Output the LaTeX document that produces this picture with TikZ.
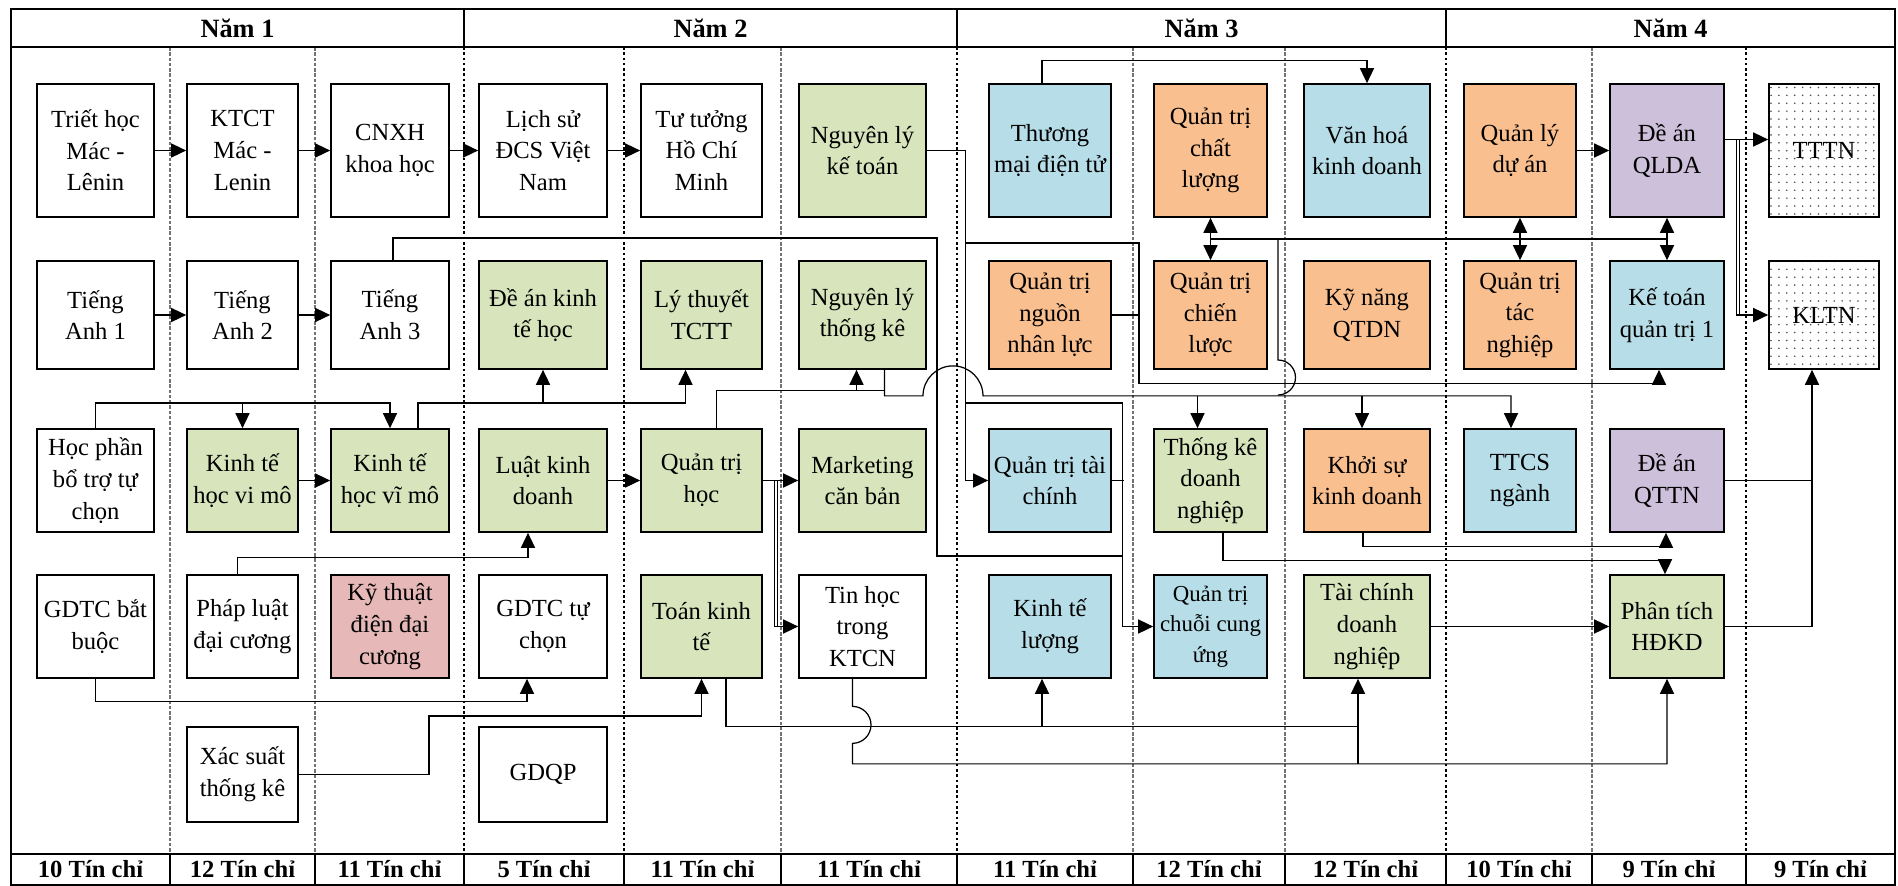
\documentclass[tikz,border=0pt]{standalone}
\usepackage{fontspec}
\setmainfont{Liberation Serif}
\usepackage{tikz}
\usetikzlibrary{arrows.meta, calc, patterns.meta}
\definecolor{kgreen}{RGB}{216,228,188}
\definecolor{kblue}{RGB}{183,222,232}
\definecolor{korange}{RGB}{250,191,143}
\definecolor{kpurple}{RGB}{204,192,218}
\definecolor{kpink}{RGB}{230,184,183}

\begin{document}
\begin{tikzpicture}[
    x=0.02cm, y=-0.02cm,
    course/.style={rectangle, draw=black, line width=1pt, align=center, inner sep=1pt,
                   font=\fontsize{14}{18}\selectfont},
    r1/.style={minimum height=2.66cm}, r2/.style={minimum height=2.16cm},
    r3/.style={minimum height=2.06cm}, r4/.style={minimum height=2.06cm},
    r5/.style={minimum height=1.9cm},
    c1/.style={minimum width=2.34cm}, c2/.style={minimum width=2.22cm},
    c3/.style={minimum width=2.36cm}, c4/.style={minimum width=2.56cm},
    c5/.style={minimum width=2.42cm}, c6/.style={minimum width=2.54cm},
    c7/.style={minimum width=2.44cm}, c8/.style={minimum width=2.26cm},
    c9/.style={minimum width=2.52cm}, c10/.style={minimum width=2.24cm},
    c11/.style={minimum width=2.28cm}, c12/.style={minimum width=2.2cm},
    final/.style={pattern={Dots[distance=4.5pt, radius=0.5pt]}, pattern color=black!70},
    year/.style={font=\fontsize{15}{18}\selectfont\bfseries},
    credit/.style={font=\fontsize{14}{16}\selectfont\bfseries},
    frame/.style={line width=1.2pt},
    thinsep/.style={draw=black!55, line width=0.6pt, dash pattern=on 2pt off 1pt},
    thicksep/.style={line width=1.5pt, dash pattern=on 1.5pt off 1.5pt},
    link/.style={line width=0.7pt},
    arrow/.style={-{Triangle[length=8.5pt, width=8pt]}, link},
    biarrow/.style={{Triangle[length=8.5pt, width=8pt]}-{Triangle[length=8.5pt, width=8pt]}, link}
]
    \useasboundingbox (0,0) rectangle (1898,886);

    % grid
    \foreach \x in {170,315,781,1133,1285,1592}
        \draw[thinsep] (\x,47) -- (\x,854);
    \foreach \x in {464,624,957,1446,1746}
        \draw[thicksep] (\x,47) -- (\x,854);
    \draw[frame] (11,9) rectangle (1895,885);
    \draw[frame] (11,47) -- (1895,47);
    \draw[frame] (11,854) -- (1895,854);
    \foreach \x in {464,957,1446}
        \draw[frame] (\x,9) -- (\x,47);
    \foreach \x in {170,315,464,624,781,957,1133,1285,1446,1592,1746}
        \draw[frame] (\x,854) -- (\x,885);

    \node[year] (nam1) at (237.5,28) {Năm 1};
    \node[year] (nam2) at (710.5,28) {Năm 2};
    \node[year] (nam3) at (1201.5,28) {Năm 3};
    \node[year] (nam4) at (1670.5,28) {Năm 4};
    \foreach \x/\n [count=\i] in {90.5/10,242.5/12,389.5/11,544/5,702.5/11,869/11,
                                  1045/11,1209/12,1365.5/12,1519/10,1669/9,1820.5/9}
        \node[credit] (tc\i) at (\x,869.5) {\n{} Tín chỉ};

    % row 1
    \node[course, c1, r1] (triet) at (95.5,150.5) {Triết học\\Mác -\\Lênin};
    \node[course, c2, r1] (ktct) at (242.5,150.5) {KTCT\\Mác -\\Lenin};
    \node[course, c3, r1] (cnxh) at (390,150.5) {CNXH\\khoa học};
    \node[course, c4, r1] (lsd) at (543,150.5) {Lịch sử\\ĐCS Việt\\Nam};
    \node[course, c5, r1] (tthcm) at (701.5,150.5) {Tư tưởng\\Hồ Chí\\Minh};
    \node[course, c6, r1, fill=kgreen] (nlkt) at (862.5,150.5) {Nguyên lý\\kế toán};
    \node[course, c7, r1, fill=kblue] (tmdt) at (1050,150.5) {Thương\\mại điện tử};
    \node[course, c8, r1, fill=korange] (qtchatl) at (1210.5,150.5) {Quản trị\\chất\\lượng};
    \node[course, c9, r1, fill=kblue] (vhkd) at (1367,150.5) {Văn hoá\\kinh doanh};
    \node[course, c10, r1, fill=korange] (qlda) at (1520,150.5) {Quản lý\\dự án};
    \node[course, c11, r1, fill=kpurple] (daqlda) at (1667,150.5) {Đề án\\QLDA};
    \node[course, c12, r1, final] (tttn) at (1824,150.5) {TTTN};

    % row 2
    \node[course, c1, r2] (ta1) at (95.5,315) {Tiếng\\Anh 1};
    \node[course, c2, r2] (ta2) at (242.5,315) {Tiếng\\Anh 2};
    \node[course, c3, r2] (ta3) at (390,315) {Tiếng\\Anh 3};
    \node[course, c4, r2, fill=kgreen] (dakth) at (543,315) {Đề án kinh\\tế học};
    \node[course, c5, r2, fill=kgreen] (lttc) at (701.5,315) {Lý thuyết\\TCTT};
    \node[course, c6, r2, fill=kgreen] (nltk) at (862.5,315) {Nguyên lý\\thống kê};
    \node[course, c7, r2, fill=korange] (qtnnl) at (1050,315) {Quản trị\\nguồn\\nhân lực};
    \node[course, c8, r2, fill=korange] (qtchienl) at (1210.5,315) {Quản trị\\chiến\\lược};
    \node[course, c9, r2, fill=korange] (knqtdn) at (1367,315) {Kỹ năng\\QTDN};
    \node[course, c10, r2, fill=korange] (qttacn) at (1520,315) {Quản trị\\tác\\nghiệp};
    \node[course, c11, r2, fill=kblue] (ktqt1) at (1667,315) {Kế toán\\quản trị 1};
    \node[course, c12, r2, final] (kltn) at (1824,315) {KLTN};

    % row 3
    \node[course, c1, r3] (hpbt) at (95.5,480.5) {Học phần\\bổ trợ tự\\chọn};
    \node[course, c2, r3, fill=kgreen] (ktvm1) at (242.5,480.5) {Kinh tế\\học vi mô};
    \node[course, c3, r3, fill=kgreen] (ktvm2) at (390,480.5) {Kinh tế\\học vĩ mô};
    \node[course, c4, r3, fill=kgreen] (lkd) at (543,480.5) {Luật kinh\\doanh};
    \node[course, c5, r3, fill=kgreen] (qth) at (701.5,480.5) {Quản trị\\học};
    \node[course, c6, r3, fill=kgreen] (mkt) at (862.5,480.5) {Marketing\\căn bản};
    \node[course, c7, r3, fill=kblue] (qttc) at (1050,480.5) {Quản trị tài\\chính};
    \node[course, c8, r3, fill=kgreen] (tkdn) at (1210.5,480.5) {Thống kê\\doanh\\nghiệp};
    \node[course, c9, r3, fill=korange] (sknd) at (1367,480.5) {Khởi sự\\kinh doanh};
    \node[course, c10, r3, fill=kblue] (ttcs) at (1520,480.5) {TTCS\\ngành};
    \node[course, c11, r3, fill=kpurple] (daqttn) at (1667,480.5) {Đề án\\QTTN};

    % row 4
    \node[course, c1, r4] (gdtcbb) at (95.5,626.5) {GDTC bắt\\buộc};
    \node[course, c2, r4] (plddc) at (242.5,626.5) {Pháp luật\\đại cương};
    \node[course, c3, r4, fill=kpink] (ktddc) at (390,626.5) {Kỹ thuật\\điện đại\\cương};
    \node[course, c4, r4] (gdtctc) at (543,626.5) {GDTC tự\\chọn};
    \node[course, c5, r4, fill=kgreen] (tkt) at (701.5,626.5) {Toán kinh\\tế};
    \node[course, c6, r4] (thkt) at (862.5,626.5) {Tin học\\trong\\KTCN};
    \node[course, c7, r4, fill=kblue] (ktl) at (1050,626.5) {Kinh tế\\lượng};
    \node[course, c8, r4, fill=kblue, font=\fontsize{13}{17.5}\selectfont] (qtcu) at (1210.5,626.5) {Quản trị\\chuỗi cung\\ứng};
    \node[course, c9, r4, fill=kgreen] (tcdn) at (1367,626.5) {Tài chính\\doanh\\nghiệp};
    \node[course, c11, r4, fill=kgreen] (pthdkd) at (1667,626.5) {Phân tích\\HĐKD};

    % row 5
    \node[course, c2, r5] (xstk) at (242.5,774.5) {Xác suất\\thống kê};
    \node[course, c4, r5] (gdqp) at (543,774.5) {GDQP};

    % straight links
    \draw[arrow] (triet) -- (ktct);
    \draw[arrow] (ktct) -- (cnxh);
    \draw[arrow] (cnxh) -- (lsd);
    \draw[arrow] (lsd) -- (tthcm);
    \draw[arrow] (ta1) -- (ta2);
    \draw[arrow] (ta2) -- (ta3);
    \draw[arrow] (ktvm1) -- (ktvm2);
    \draw[arrow] (lkd) -- (qth);
    \draw[arrow] (qth) -- (mkt);
    \draw[arrow] (tcdn) -- (pthdkd);
    \draw[arrow] (qlda) -- (daqlda);
    \draw[biarrow] (qtchatl) -- (qtchienl);
    \draw[biarrow] (qlda) -- (qttacn);
    \draw[biarrow] (daqlda) -- (ktqt1);

    % bus levels
    \coordinate (hbus) at (0,403);
    \coordinate (bus) at (0,239);
    \coordinate (xs) at (429,716);
    \coordinate (ta3a) at (937,238);
    \coordinate (ta3b) at (1123,556);
    \coordinate (kq) at (1139,243);
    \coordinate (kd) at (1278,239);
    \coordinate (kt) at ($(nlkt.east)+(39,0)$);
    \coordinate (tk) at ($(nltk.south)+(22,26)$);

    % year 1 - 2
    \draw[arrow] (hpbt.north) |- (ktvm2.north |- hbus) -- (ktvm2.north);
    \draw[arrow] (ktvm1.north |- hbus) -- (ktvm1.north);
    \draw[arrow] ($(ktvm2.north)+(28,0)$) |- ($(lttc.south |- hbus)+(-16,0)$) -- ($(lttc.south)+(-16,0)$);
    \draw[arrow] (dakth.south |- hbus) -- (dakth.south);
    \draw[arrow] ($(plddc.north)+(-5,0)$) |- ($(lkd.south)+(-15,25)$) -- ($(lkd.south)+(-15,0)$);
    \draw[arrow] (gdtcbb.south) |- ($(gdtctc.south)+(-16,23)$) -- ($(gdtctc.south)+(-16,0)$);
    \draw[arrow] (xstk.east) -| (xs) -- (xs -| tkt.south) -- (tkt.south);
    \draw[arrow] (qth.east) -- ++(12,0) |- (thkt.west);
    \draw[link] ($(qth.east)+(15,0)$) -- ($(qth.east |- thkt.west)+(15,0)$);
    \draw[link] ($(ta3.north)+(3,0)$) |- (ta3a) |- (ta3b);

    % year 2 - 3
    \draw[arrow] (nlkt.east) -- (kt) |- (qttc.west);
    \draw[arrow] (kt |- hbus) -| ($(qtcu.west)+(-31,0)$) -- (qtcu.west);
    \draw[link] (qttc.east) -- ++(12,0);
    \draw[arrow] (kt |- kq) -- (kq) |- ($(ktqt1.south)+(-8,14)$) -- ($(ktqt1.south)+(-8,0)$);
    \draw[link] (qtnnl.east) -- (qtnnl.east -| kq);
    \draw[link] (qtchatl.south |- bus) -- (daqlda.south |- bus);
    \draw[link] (kd) -- ++(0,121) arc[start angle=90, end angle=-90, radius=0.35cm];
    \draw[arrow] ($(nltk.south)+(22,0)$) -- (tk) -- ++(38.5,0)
        arc[start angle=180, end angle=0, radius=0.6cm] -| ($(ttcs.north)+(-9,0)$);
    \draw[arrow] ($(tkdn.north |- tk)+(-13,0)$) -- ($(tkdn.north)+(-13,0)$);
    \draw[arrow] ($(sknd.north |- tk)+(-5,0)$) -- ($(sknd.north)+(-5,0)$);
    \draw[link] ($(qth.north)+(15,0)$) |- ($(tk)+(0,-5)$);
    \draw[arrow] ($(nltk.south)+(-6,21)$) -- ($(nltk.south)+(-6,0)$);
    \draw[arrow] ($(tkt.south)+(24.5,0)$) |- ($(tcdn.south)+(-9,48)$) -- ($(tcdn.south)+(-9,0)$);
    \draw[arrow] ($(ktl.south)+(-8,48)$) -- ($(ktl.south)+(-8,0)$);
    \draw[arrow] ($(thkt.south)+(-10,0)$) -- ++(0,27.5)
        arc[start angle=90, end angle=-90, radius=0.37cm] |- ($(pthdkd.south)+(0,85)$) -- (pthdkd.south);
    \draw[link] ($(tcdn.south)+(-9,48)$) -- ($(tcdn.south)+(-9,85)$);
    \draw[arrow] ($(tmdt.north)+(-8,0)$) |- ($(vhkd.north)+(0,-23)$) -- (vhkd.north);

    % year 3 - 4
    \draw[arrow] ($(tkdn.south)+(12.5,0)$) |- ($(pthdkd.north)+(-2,-14)$) -- ($(pthdkd.north)+(-2,0)$);
    \draw[arrow] ($(sknd.south)+(-4,0)$) |- ($(daqttn.south)+(-1,14)$) -- ($(daqttn.south)+(-1,0)$);
    \draw[arrow] (pthdkd.east) -| ($(kltn.south)+(-12,0)$);
    \draw[link] (daqttn.east) -- ($(daqttn.east -| kltn.south)+(-12,0)$);
    \draw[arrow] ($(daqlda.east)+(0,-11)$) -- ($(tttn.west)+(0,-11)$);
    \draw[arrow] ($(daqlda.east)+(12,-11)$) |- (kltn.west);
    \draw[link] ($(daqlda.east)+(14.5,-11)$) -- ($(daqlda.east |- kltn.west)+(14.5,0)$);
\end{tikzpicture}
\end{document}
